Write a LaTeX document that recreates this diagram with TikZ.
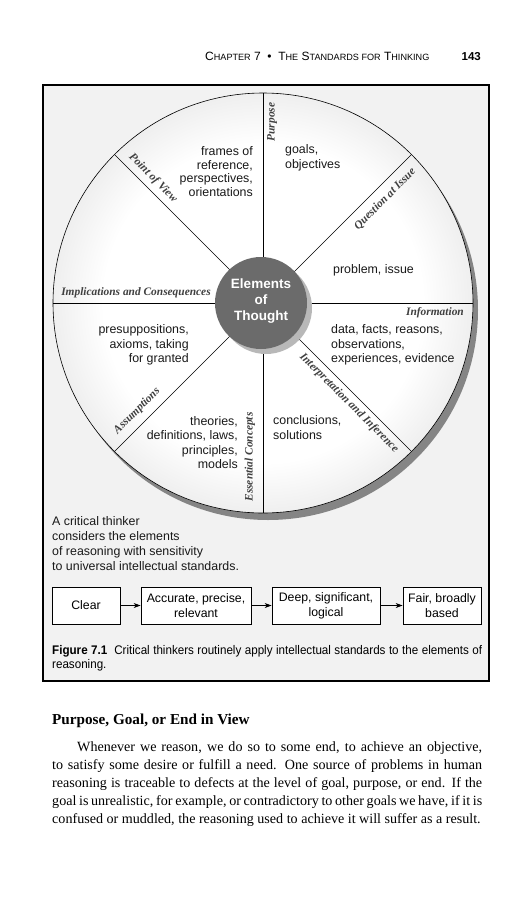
\documentclass[tikz,border=0pt]{standalone}
\usepackage{fontspec}
\setmainfont{Liberation Serif}
\newfontfamily\sansf{Liberation Sans}
\newfontfamily\condf[FakeStretch=0.93]{Liberation Sans}
\usetikzlibrary{arrows.meta}
\pgfdeclareradialshading{wheelshade}{\pgfpoint{0bp}{0bp}}{color(0bp)=(white); color(19bp)=(white); color(50bp)=(black!33); color(100bp)=(black!33)}
\newcommand\smc[1]{{\fontsize{9.1}{10}\selectfont #1}}
\tikzset{
  lab/.style={font=\fontsize{11.4}{12}\selectfont\bfseries\itshape, text=black!75, inner sep=0pt},
  body/.style={font=\sansf\fontsize{12.4}{14.5}\selectfont, text=black!90, inner sep=0pt},
  sbox/.style={draw, line width=0.8pt, fill=white, font=\sansf\fontsize{12.3}{15}\selectfont, align=center, minimum height=37pt, inner sep=0pt},
  arr/.style={-{Stealth[length=7pt,width=5pt]}, line width=0.8pt}
}
\begin{document}
\begin{tikzpicture}[x=1pt,y=-1pt]
\useasboundingbox (0,0) rectangle (531,900);
\fill[white] (0,0) rectangle (531,900);
% header
\node[anchor=base west, font=\sansf\fontsize{12}{13}\selectfont, inner sep=0pt] (hdr) at (205,60) {C\smc{HAPTER} 7 \ • \ T\smc{HE} S\smc{TANDARDS FOR} T\smc{HINKING}};
\node[anchor=base east, font=\sansf\bfseries\fontsize{11.5}{12}\selectfont, inner sep=0pt] (pg) at (481,60) {143};
% frame
\draw[line width=1.5pt, fill=black!5] (43,85) rectangle (489,681);
% wheel
\coordinate (c) at (263,303);
\fill[black!48] (268,310) circle[radius=210];
\shade[shading=wheelshade, draw=black, line width=0.6pt] (c) circle[radius=210];
\foreach \a in {0,45,...,315} \draw[line width=0.6pt] (c) -- ++(\a:210);
% centre
\fill[black!28] (266,308) circle[radius=46];
\fill[black!58] (261,303) circle[radius=46];
\node[font=\sansf\bfseries\fontsize{13.5}{16}\selectfont, text=white, align=center, inner sep=0pt] (eot) at (261,301) {Elements\\of\\Thought};
% labels
\node[lab, rotate=90] (l1) at (272,122) {Purpose};
\node[lab, rotate=-45] (l2) at (153,178) {Point of View};
\node[lab, rotate=45] (l3) at (385,199) {Question at Issue};
\node[lab] (l4) at (136,293) {Implications and Consequences};
\node[lab, anchor=east] (l5) at (464,313) {Information};
\node[lab, rotate=-45] (l6) at (349,403) {Interpretation and Inference};
\node[lab, rotate=90] (l7) at (250,457) {Essential Concepts};
\node[lab, rotate=45] (l8) at (137,411) {Assumptions};
% body texts
\node[body, align=right, anchor=east, font=\sansf\fontsize{12.4}{13.8}\selectfont] (t1) at (253,171.5) {frames of\\reference,\\perspectives,\\orientations};
\node[body, align=left, anchor=west] (t2) at (285,158) {goals,\\objectives};
\node[body, anchor=west] (t3) at (333,270) {problem, issue};
\node[body, align=left, anchor=west] (t4) at (331,345) {data, facts, reasons,\\observations,\\experiences, evidence};
\node[body, align=right, anchor=east] (t5) at (189,345) {presuppositions,\\axioms, taking\\for granted};
\node[body, align=right, anchor=east] (t6) at (238,442.5) {theories,\\definitions, laws,\\principles,\\models};
\node[body, align=left, anchor=west] (t7) at (273,427.5) {conclusions,\\solutions};
% statement
\node[body, align=left, anchor=west, font=\sansf\fontsize{12.4}{14.8}\selectfont] (stmt) at (52,543.5) {A critical thinker\\considers the elements\\of reasoning with sensitivity\\to universal intellectual standards.};
% boxes
\node[sbox, minimum width=68pt] (b1) at (86,605.5) {Clear};
\node[sbox, minimum width=110pt] (b2) at (196,605.5) {Accurate, precise,\\relevant};
\node[sbox, minimum width=108pt] (b3) at (326,605.5) {Deep, significant,\\logical};
\node[sbox, minimum width=78pt] (b4) at (442,605.5) {Fair, broadly\\based};
\draw[arr] (b1) -- (b2);
\draw[arr] (b2) -- (b3);
\draw[arr] (b3) -- (b4);
% caption
\node[anchor=north west, text width=430pt, align=justify, inner sep=0pt, font=\condf\fontsize{12.5}{14}\selectfont] (cap) at (52,645) {\textbf{Figure 7.1}\ \ Critical thinkers routinely apply intellectual standards to the elements of\linebreak reasoning.};
% heading and paragraph
\node[anchor=base west, inner sep=0pt, font=\bfseries\fontsize{15.2}{18}\selectfont] (head) at (52,724) {Purpose, Goal, or End in View};
\node[anchor=north west, text width=430pt, align=justify, inner sep=0pt, font=\fontsize{14.1}{18}\selectfont] (para) at (52,742) {\hspace*{25pt}Whenever we reason, we do so to some end, to achieve an objective,\linebreak to satisfy some desire or fulfill a need. One source of problems in human\linebreak reasoning is traceable to defects at the level of goal, purpose, or end. If the\linebreak goal is unrealistic, for example, or contradictory to other goals we have, if it is\linebreak confused or muddled, the reasoning used to achieve it will suffer as a result.};
\end{tikzpicture}
\end{document}
